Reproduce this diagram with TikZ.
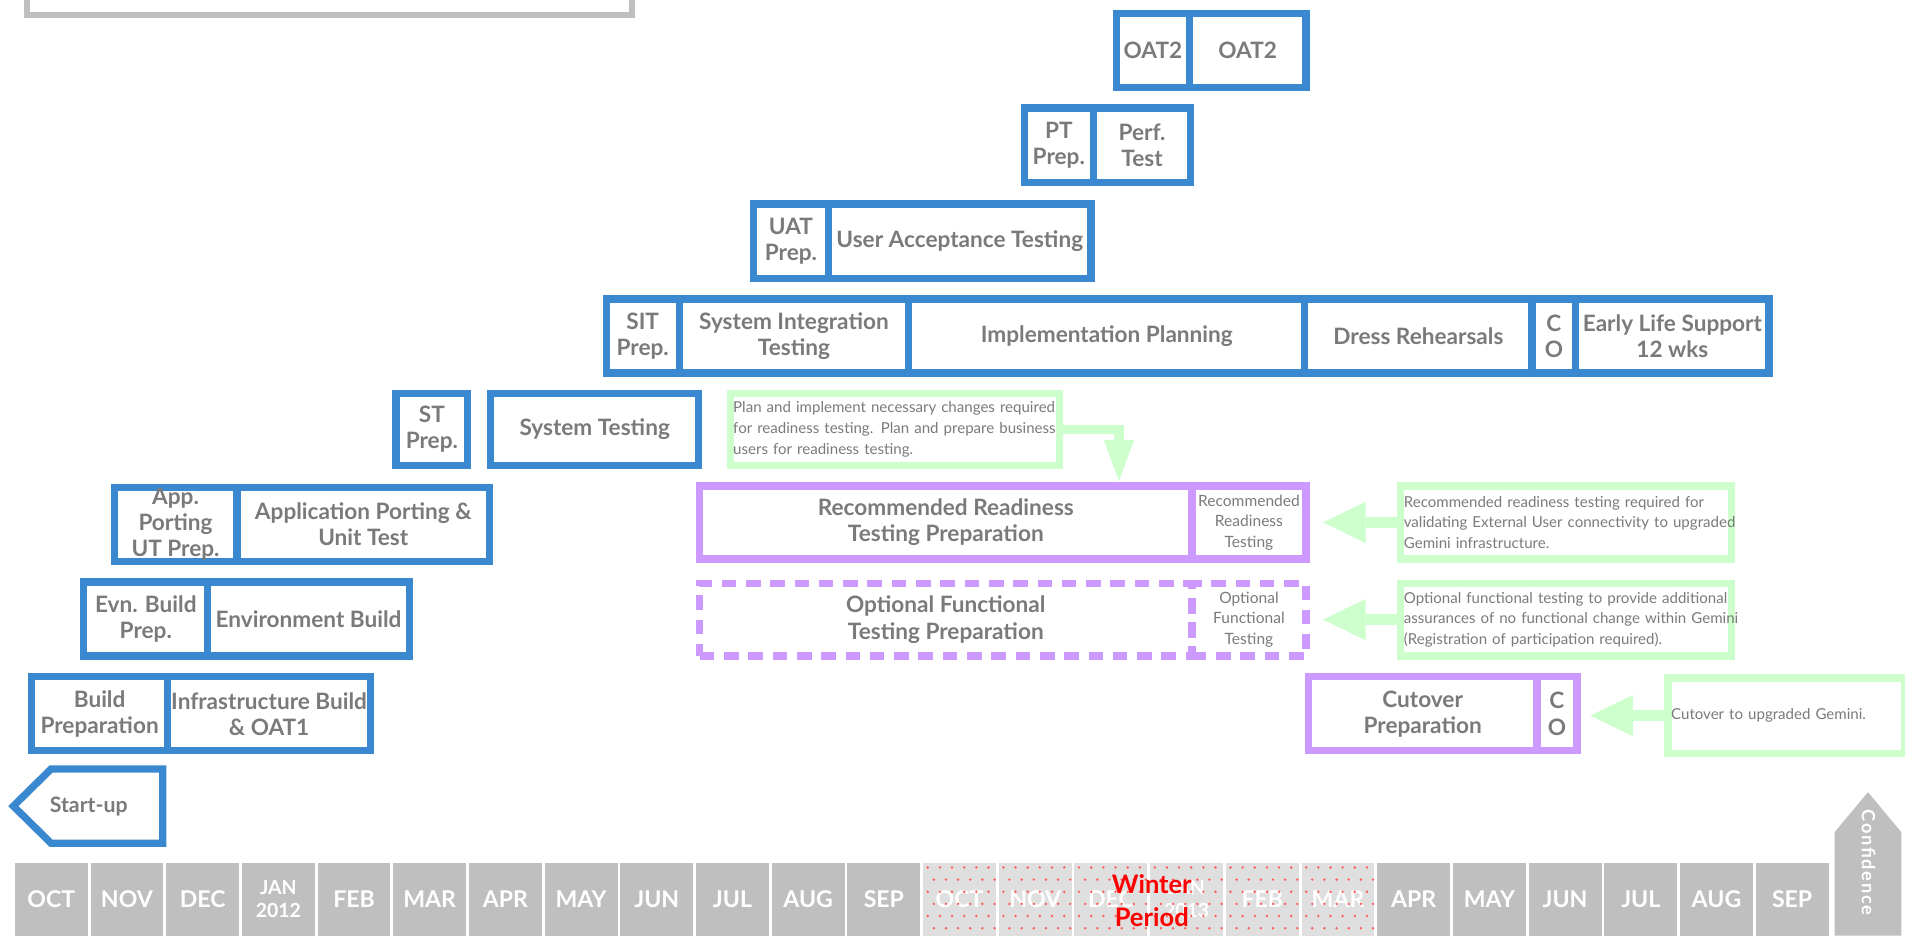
\documentclass[tikz,border=0pt]{standalone}
\usepackage{fontspec}
\setmainfont{Lato}
\usetikzlibrary{arrows.meta,calc}
\definecolor{bblue}{HTML}{3A88CF}
\definecolor{ppurple}{HTML}{CC99FF}
\definecolor{ggreen}{HTML}{CCFFCC}
\definecolor{tgray}{HTML}{7A7A7A}
\definecolor{mgray}{HTML}{BFBFBF}
\definecolor{wgray}{HTML}{DFDFDF}
\newcommand\cl[1]{\makebox[0pt]{#1}}
\newcommand\mkcell[7]{%
  \pgfmathsetmacro\cw{#5-#3}\pgfmathsetmacro\ch{#6-#4}%
  \node[#1, anchor=north west, minimum width=\cw pt, minimum height=\ch pt] (#2) at (#3,#4) {#7};}
\newcommand\mknote[6]{%
  \pgfmathsetmacro\cw{#4-#2}\pgfmathsetmacro\ch{#5-#3}\pgfmathsetmacro\tw{#4-#2-5}%
  \node[notebox, anchor=north west, minimum width=\cw pt, minimum height=\ch pt, text width=\tw pt] (#1) at (#2,#3) {#6};}
\tikzset{
  base/.style={inner sep=0pt, align=center, text=tgray, font=\bfseries\fontsize{18.6}{21.5}\selectfont},
  bluebox/.style={base, draw=bblue, line width=6pt},
  purplebox/.style={base, draw=ppurple, line width=6pt},
  dashbox/.style={purplebox, dash pattern=on 12pt off 8pt},
  graybox/.style={draw=mgray, line width=5pt, inner sep=0pt},
  notebox/.style={inner sep=0pt, align=left, text=tgray, draw=ggreen, line width=6pt, font=\fontsize{12.4}{17}\selectfont},
  smalltext/.style={font=\fontsize{12.8}{17}\selectfont},
  garrow/.style={draw=ggreen, line width=9pt, -{Triangle[length=35pt,width=34pt,line width=0pt]}},
  month/.style={fill=mgray, inner sep=0pt, minimum width=60pt, minimum height=60pt, text=white, align=center, font=\bfseries\fontsize{19}{20}\selectfont},
  winter/.style={month, fill=wgray},
}
\begin{document}
\begin{tikzpicture}[x=1pt,y=-1pt]
\useasboundingbox (0,0) rectangle (1568,770);
% top gray box
\mkcell{graybox}{topbox}{19.5}{-60}{517.5}{9.5}{}
% OAT2
\mkcell{bluebox}{oatA}{916}{8}{976}{69}{\cl{OAT2}}
\mkcell{bluebox}{oatB}{976}{8}{1072}{69}{\cl{OAT2}}
% PT
\mkcell{bluebox}{ptA}{840}{86}{897}{147}{\cl{PT}\\\cl{Prep.}}
\mkcell{bluebox}{ptB}{897}{86}{977}{147}{\cl{Perf.}\\\cl{Test}}
% UAT
\mkcell{bluebox}{uatA}{617}{165}{679}{226}{\cl{UAT}\\\cl{Prep.}}
\mkcell{bluebox}{uatB}{679}{165}{895}{226}{\cl{User Acceptance Testing}}
% SIT row
\mkcell{bluebox}{sitA}{496}{243}{556}{304}{\cl{SIT}\\\cl{Prep.}}
\mkcell{bluebox}{sitB}{556}{243}{745}{304}{\cl{System Integration}\\\cl{Testing}}
\mkcell{bluebox}{impl}{745}{243}{1071}{304}{\cl{Implementation Planning}}
\mkcell{bluebox}{dress}{1071}{243}{1258}{304}{\cl{Dress Rehearsals}}
\mkcell{bluebox}{coA}{1258}{243}{1294}{304}{\cl{C}\\\cl{O}}
\mkcell{bluebox}{els}{1294}{243}{1453}{304}{\cl{Early Life Support}\\\cl{12 wks}}
% ST
\mkcell{bluebox}{stA}{323}{321}{382}{380}{\cl{ST}\\\cl{Prep.}}
\mkcell{bluebox}{stB}{401}{321}{572}{380}{\cl{System Testing}}
% App porting
\mkcell{bluebox}{appA}{91}{398}{192}{459}{\cl{App.}\\\cl{Porting}\\\cl{UT Prep.}}
\mkcell{bluebox}{appB}{192}{398}{400}{459}{\cl{Application Porting \&}\\\cl{Unit Test}}
% Environment
\mkcell{bluebox}{evnA}{66}{476}{168}{537}{\cl{Evn. Build}\\\cl{Prep.}}
\mkcell{bluebox}{evnB}{168}{476}{334}{537}{\cl{Environment Build}}
% Build
\mkcell{bluebox}{bldA}{23}{554}{135}{615}{\cl{Build}\\\cl{Preparation}}
\mkcell{bluebox}{bldB}{135}{554}{302}{615}{\cl{Infrastructure Build}\\\cl{\& OAT1}}
% Start-up
\draw[draw=bblue, line width=6pt, line join=miter] (134,633) -- (42,633) -- (11,663.5) -- (42,694) -- (134,694) -- cycle;
\node[base, font=\bfseries\fontsize{17.5}{20}\selectfont] (startup) at (73,663.5) {Start-up};
% purple
\mkcell{purplebox}{recA}{573}{397}{978}{457}{\cl{Recommended Readiness}\\\cl{Testing Preparation}}
\mkcell{purplebox, smalltext}{recB}{978}{397}{1072}{457}{\cl{Recommended}\\\cl{Readiness}\\\cl{Testing}}
\mkcell{dashbox}{optA}{573}{477}{978}{537}{\cl{Optional Functional}\\\cl{Testing Preparation}}
\mkcell{dashbox, smalltext}{optB}{978}{477}{1072}{537}{\cl{Optional}\\\cl{Functional}\\\cl{Testing}}
\mkcell{purplebox}{cutA}{1074}{554}{1262}{615}{\cl{Cutover}\\\cl{Preparation}}
\mkcell{purplebox}{cutB}{1262}{554}{1295}{615}{\cl{C}\\\cl{O}}
% notes
\mknote{g1}{598}{321}{869}{380}{\mbox{Plan and implement necessary changes required}\\\mbox{for readiness testing. Plan and prepare business}\\\mbox{users for readiness testing.}}
\mknote{g2}{1150}{397}{1422}{457}{\mbox{Recommended readiness testing required for}\\\mbox{validating External User connectivity to upgraded}\\\mbox{Gemini infrastructure.}}
\mknote{g3}{1150}{477}{1422}{537}{\mbox{Optional functional testing to provide additional}\\\mbox{assurances of no functional change within Gemini}\\\mbox{(Registration of participation required).}}
\mknote{g4}{1370}{555}{1565}{617}{\mbox{Cutover to upgraded Gemini.}}
% arrows
\draw[draw=ggreen, line width=8pt, line join=miter, -{Triangle[length=34pt,width=25pt,line width=0pt]}] (g1.east) -| ($(recA.north west)+(348,-1)$);
\draw[garrow, shorten >=11pt] (g2.west) -- (recB.east);
\draw[garrow, shorten >=11pt] (g3.west) -- (optB.east);
\draw[garrow, shorten >=8pt] (g4.west) -- (g4.west -| cutB.east);
% months
\foreach \i/\m in {0/OCT,1/NOV,2/DEC,4/FEB,5/MAR,6/APR,7/MAY,8/JUN,9/JUL,10/AUG,11/SEP,18/APR,19/MAY,20/JUN,21/JUL,22/AUG,23/SEP}{
  \pgfmathsetmacro\xx{12+62.3*\i}
  \node[month, anchor=north west] (m\i) at (\xx,710) {\m};}
\pgfmathsetmacro\xx{12+62.3*3}
\node[month, anchor=north west, font=\bfseries\fontsize{16}{19}\selectfont] (m3) at (\xx,710) {JAN\\2012};
\foreach \i/\m in {12/OCT,13/NOV,14/DEC,16/FEB,17/MAR}{
  \pgfmathsetmacro\xx{12+62.3*\i}
  \node[winter, anchor=north west] (m\i) at (\xx,710) {\m};}
\pgfmathsetmacro\xx{12+62.3*15}
\node[winter, anchor=north west, font=\bfseries\fontsize{16}{19}\selectfont] (m15) at (\xx,710) {JAN\\2013};
\foreach \i in {12,...,17}{
  \foreach \r in {0,...,5}{
    \foreach \c in {0,...,5}{
      \pgfmathsetmacro\dx{12+62.3*\i+4+10*\c+5*mod(\r,2)}
      \pgfmathsetmacro\dy{714+10*\r}
      \fill[red!65] (\dx,\dy) circle (1.1pt);
    }}}
\node[text=red, align=center, font=\bfseries\fontsize{21}{27}\selectfont] (winterlbl) at (948,741) {Winter\\Period};
% confidence
\fill[mgray] (1510,770) -- (1510,685) -- (1537.5,652) -- (1565,685) -- (1565,770) -- cycle;
\node[rotate=-90, text=white, inner sep=0pt, font=\bfseries\fontsize{15}{15}\selectfont\addfontfeature{LetterSpace=9}] (conf) at (1538,710) {Confidence};
\end{tikzpicture}
\end{document}
